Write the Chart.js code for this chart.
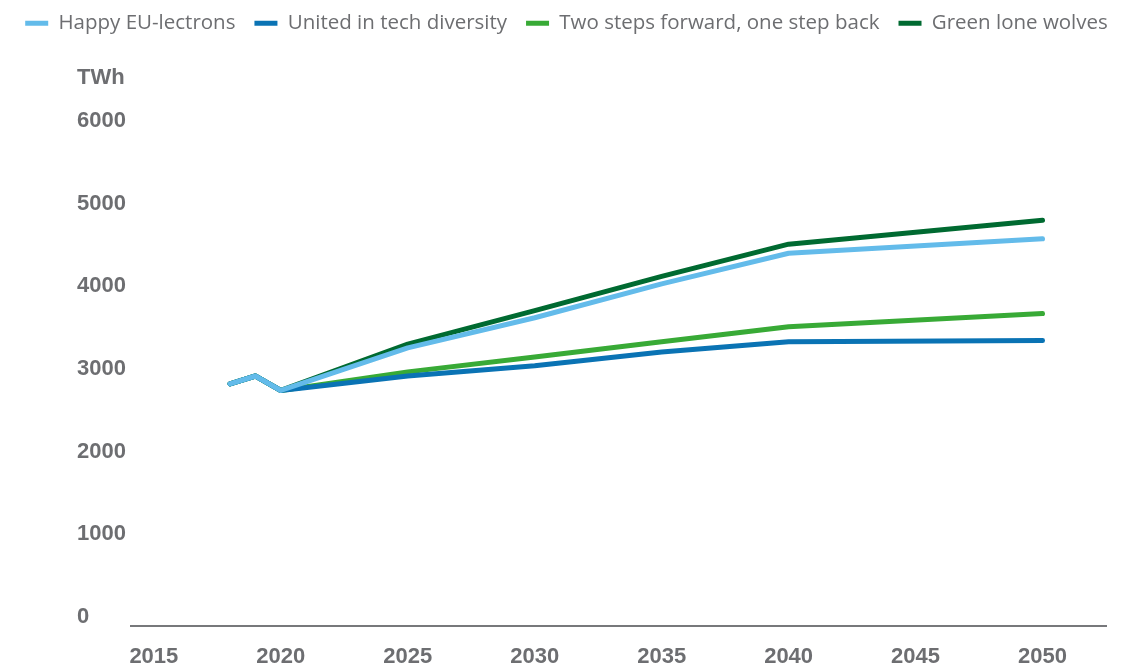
<!DOCTYPE html>
<html lang="en">
<head>
    <meta charset="UTF-8">
    <title>Electricity demand by scenario</title>
    <script src="https://cdn.jsdelivr.net/npm/chart.js"></script>
    <style>
        body { margin: 0; background: #fff; }
        .chart-box { width: 1133px; height: 670px; position: relative; }
    </style>
</head>
<body>
    <div class="chart-box">
        <canvas id="demandChart"></canvas>
    </div>

    <script>
    // years with a value, and the labelled years on the axis
    const years = [2018, 2019, 2020, 2025, 2030, 2035, 2040, 2050];
    const yearTicks = [2015, 2020, 2025, 2030, 2035, 2040, 2045, 2050];
    const twhTicks = [0, 1000, 2000, 3000, 4000, 5000, 6000];

    // TWh per scenario
    const happyEu = [2820, 2915, 2740, 3255, 3620, 4030, 4400, 4575];
    const unitedTech = [2820, 2915, 2740, 2915, 3040, 3205, 3330, 3345];
    const twoSteps = [2820, 2915, 2740, 2965, 3145, 3330, 3510, 3670];
    const loneWolves = [2820, 2915, 2740, 3300, 3705, 4120, 4510, 4800];

    const grey = '#6d6e71';
    const tickFamily = '"Liberation Sans Narrow", "Liberation Sans", Arial, sans-serif';
    const tickFont = { family: tickFamily, size: 22, weight: 'bold' };

    function series(label, values, color) {
        return {
            label: label,
            data: years.map((yr, i) => ({ x: yr, y: values[i] })),
            borderColor: color,
            backgroundColor: color,
            borderWidth: 5,
            borderCapStyle: 'round',
            borderJoinStyle: 'round',
            pointRadius: 0,
            tension: 0
        };
    }

    // spacer axes so the legend can use the full width
    function spacer(w) {
        return {
            display: true,
            grid: { display: false, drawTicks: false },
            border: { display: false },
            ticks: { display: false },
            afterFit: s => { s.width = w; }
        };
    }

    // unit label above the value axis
    const unitLabel = {
        id: 'unitLabel',
        afterDraw(chart) {
            const y = chart.scales.y;
            const ctx = chart.ctx;
            ctx.save();
            ctx.font = 'bold 22px ' + tickFamily;
            ctx.fillStyle = grey;
            ctx.textAlign = 'left';
            ctx.textBaseline = 'middle';
            ctx.fillText('TWh', y.left, y.getPixelForValue(6000) - 43);
            ctx.restore();
        }
    };

    const ctx = document.getElementById('demandChart').getContext('2d');
    new Chart(ctx, {
        type: 'line',
        data: {
            datasets: [
                series('Happy EU-lectrons', happyEu, '#63bbea'),
                series('United in tech diversity', unitedTech, '#0a73b4'),
                series('Two steps forward, one step back', twoSteps, '#38aa36'),
                series('Green lone wolves', loneWolves, '#006a31')
            ]
        },
        options: {
            responsive: true,
            maintainAspectRatio: false,
            animation: false,
            layout: { padding: { top: -6 } },
            plugins: {
                tooltip: { enabled: false },
                legend: {
                    position: 'top',
                    labels: {
                        color: grey,
                        font: { family: '"Open Sans", sans-serif', size: 20.5 },
                        boxWidth: 23,
                        boxHeight: 5,
                        padding: 19,
                        generateLabels: chart =>
                            Chart.defaults.plugins.legend.labels.generateLabels(chart)
                                .map(l => Object.assign(l, { lineWidth: 0, fillStyle: l.strokeStyle }))
                    }
                }
            },
            scales: {
                x: {
                    type: 'linear',
                    min: 2014.1,
                    max: 2052.5,
                    grid: { display: false, drawTicks: false },
                    border: { display: true, color: '#77787b', width: 2 },
                    afterBuildTicks: s => { s.ticks = yearTicks.map(v => ({ value: v })); },
                    afterFit: s => { s.height = 44; },
                    ticks: {
                        color: grey,
                        font: tickFont,
                        padding: 18,
                        maxRotation: 0,
                        callback: v => String(v)
                    }
                },
                y: {
                    min: -109,
                    max: 6937,
                    weight: 0,
                    grid: { display: false, drawTicks: false },
                    border: { display: false },
                    afterBuildTicks: s => { s.ticks = twhTicks.map(v => ({ value: v })); },
                    afterFit: s => { s.width = 54; },
                    ticks: {
                        color: grey,
                        font: tickFont,
                        crossAlign: 'far',
                        callback: v => String(v)
                    }
                },
                yPad: Object.assign(spacer(77), { position: 'left', weight: 1 }),
                yPadRight: Object.assign(spacer(27), { position: 'right' })
            }
        },
        plugins: [unitLabel]
    });
    </script>
</body>
</html>
